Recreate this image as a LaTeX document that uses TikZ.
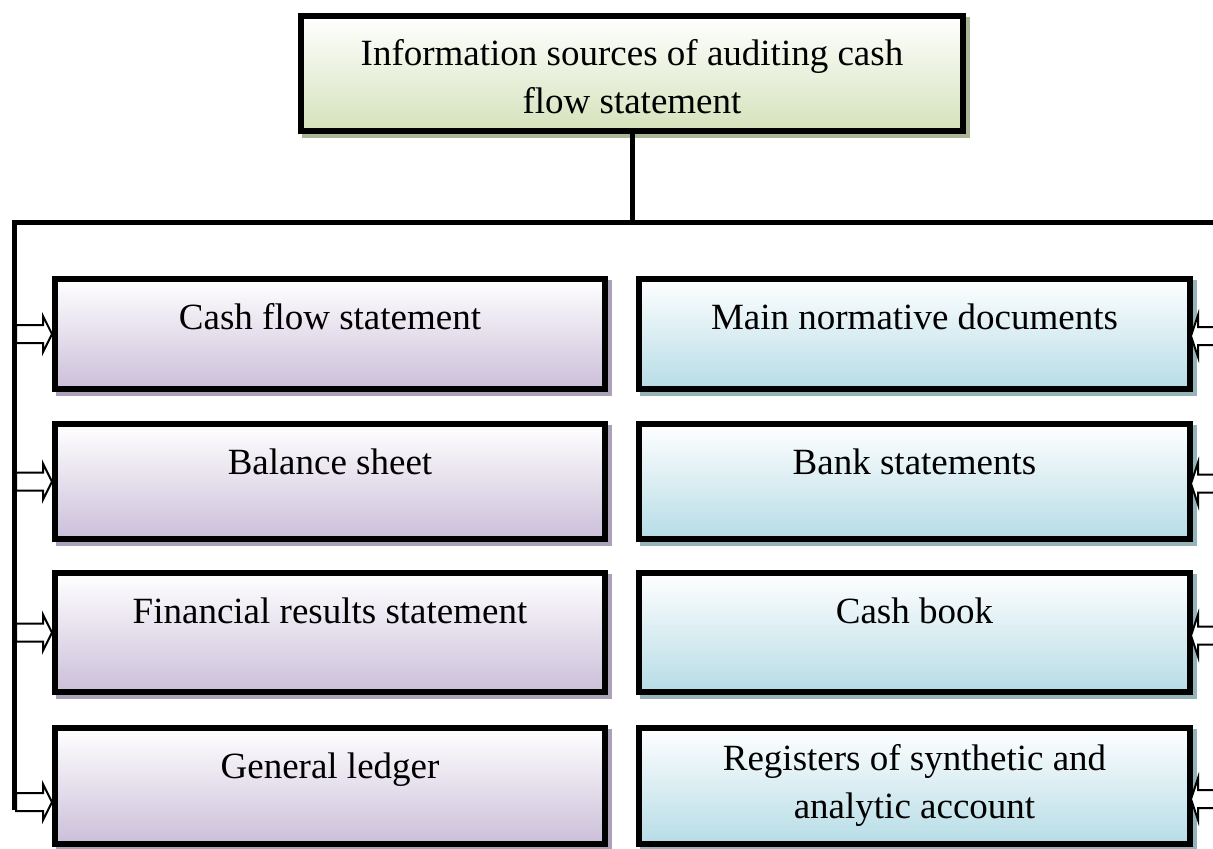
\documentclass[tikz,border=0pt]{standalone}
\usepackage{fontspec}
\setmainfont{Liberation Serif}
\usetikzlibrary{calc}
\definecolor{lilac}{HTML}{CBBFD9}
\definecolor{lilacshade}{HTML}{ABA2B9}
\definecolor{aqua}{HTML}{B6DCE6}
\definecolor{aquashade}{HTML}{97B3BA}
\definecolor{sage}{HTML}{D5E2BB}
\definecolor{sageshade}{HTML}{A9B797}
\begin{document}
\begin{tikzpicture}[x=0.5pt,y=-0.5pt,
  frame/.style={draw=black, line width=3pt, top color=white, inner sep=0pt},
  lbox/.style={frame, bottom color=lilac, minimum width=275pt},
  rbox/.style={frame, bottom color=aqua, minimum width=275.5pt},
  tbox/.style={frame, bottom color=sage, minimum width=331pt, minimum height=57.5pt},
  lbl/.style={inner sep=0pt, align=center, font=\fontsize{18.5}{24}\selectfont},
  bus/.style={draw=black, line width=2.5pt, line join=miter},
  hollow/.style={draw=black, fill=white, line width=1pt, line join=miter},
]
\useasboundingbox (0,0) rectangle (1213,848);
\clip (0,0) rectangle (1213,848);

% heading box (base anchor of a two-line label is its last line)
\fill[sageshade] (302,17) rectangle (970,138);
\node[tbox] (top) at (632,73.5) {};
\node[lbl, anchor=base] (toptext) at ($(top.north)+(0,100)$)
  {Information sources of auditing cash\\flow statement};

% distribution bus
\coordinate (hub) at (632,222);
\coordinate (busend) at (14,810);
\draw[bus] (top.south) -- (hub);
\draw[bus] (busend) -- (14,222) -- (1225,222);

% left column
\fill[lilacshade] (56,280) rectangle (612,396);
\node[lbox, minimum height=55pt] (l1) at (330,334) {};
\fill[lilacshade] (56,425) rectangle (612,546);
\node[lbox, minimum height=57.5pt] (l2) at (330,481.5) {};
\fill[lilacshade] (56,574) rectangle (612,699);
\node[lbox, minimum height=59.5pt] (l3) at (330,632.5) {};
\fill[lilacshade] (56,729) rectangle (612,851);
\node[lbox, minimum height=58pt] (l4) at (330,786) {};

\node[lbl, anchor=base] (l1t) at ($(l1.north)+(0,53)$) {Cash flow statement};
\node[lbl, anchor=base] (l2t) at ($(l2.north)+(0,53)$) {Balance sheet};
\node[lbl, anchor=base] (l3t) at ($(l3.north)+(0,53)$) {Financial results statement};
\node[lbl, anchor=base] (l4t) at ($(l4.north)+(0,53)$) {General ledger};

% right column
\fill[aquashade] (640,280) rectangle (1197,396);
\node[rbox, minimum height=55pt] (r1) at (914.5,334) {};
\fill[aquashade] (640,425) rectangle (1197,546);
\node[rbox, minimum height=57.5pt] (r2) at (914.5,481.5) {};
\fill[aquashade] (640,574) rectangle (1197,699);
\node[rbox, minimum height=59.5pt] (r3) at (914.5,632.5) {};
\fill[aquashade] (640,729) rectangle (1197,851);
\node[rbox, minimum height=58pt] (r4) at (914.5,786) {};

\node[lbl, anchor=base] (r1t) at ($(r1.north)+(0,53)$) {Main normative documents};
\node[lbl, anchor=base] (r2t) at ($(r2.north)+(0,53)$) {Bank statements};
\node[lbl, anchor=base] (r3t) at ($(r3.north)+(0,53)$) {Cash book};
\node[lbl, anchor=base] (r4t) at ($(r4.north)+(0,93)$)
  {Registers of synthetic and\\analytic account};

% hollow arrows from the bus into the left boxes
\draw[hollow] ($(l1.west)+(0,0)$) -- ++(-9,-18) -- ++(0,9) -- ++(-27,0)
  -- ++(0,18) -- ++(27,0) -- ++(0,9) -- cycle;
\draw[hollow] ($(l2.west)+(0,0)$) -- ++(-9,-18) -- ++(0,9) -- ++(-27,0)
  -- ++(0,18) -- ++(27,0) -- ++(0,9) -- cycle;
\draw[hollow] ($(l3.west)+(0,0)$) -- ++(-9,-18) -- ++(0,9) -- ++(-27,0)
  -- ++(0,18) -- ++(27,0) -- ++(0,9) -- cycle;
\draw[hollow] ($(l4.west)+(0,16)$) -- ++(-9,-18) -- ++(0,9) -- ++(-27,0)
  -- ++(0,18) -- ++(27,0) -- ++(0,9) -- cycle;

% hollow arrows entering the right boxes from the right
\draw[hollow] ($(r1.east)+(-2,2)$) -- ++(7,-21) -- ++(0,12) -- ++(40,0)
  -- ++(0,18) -- ++(-40,0) -- ++(0,12) -- cycle;
\draw[hollow] ($(r2.east)+(-2,2)$) -- ++(7,-21) -- ++(0,12) -- ++(40,0)
  -- ++(0,18) -- ++(-40,0) -- ++(0,12) -- cycle;
\draw[hollow] ($(r3.east)+(-2,3)$) -- ++(7,-21) -- ++(0,12) -- ++(40,0)
  -- ++(0,18) -- ++(-40,0) -- ++(0,12) -- cycle;
\draw[hollow] ($(r4.east)+(-2,13)$) -- ++(7,-21) -- ++(0,12) -- ++(40,0)
  -- ++(0,18) -- ++(-40,0) -- ++(0,12) -- cycle;
\end{tikzpicture}
\end{document}
